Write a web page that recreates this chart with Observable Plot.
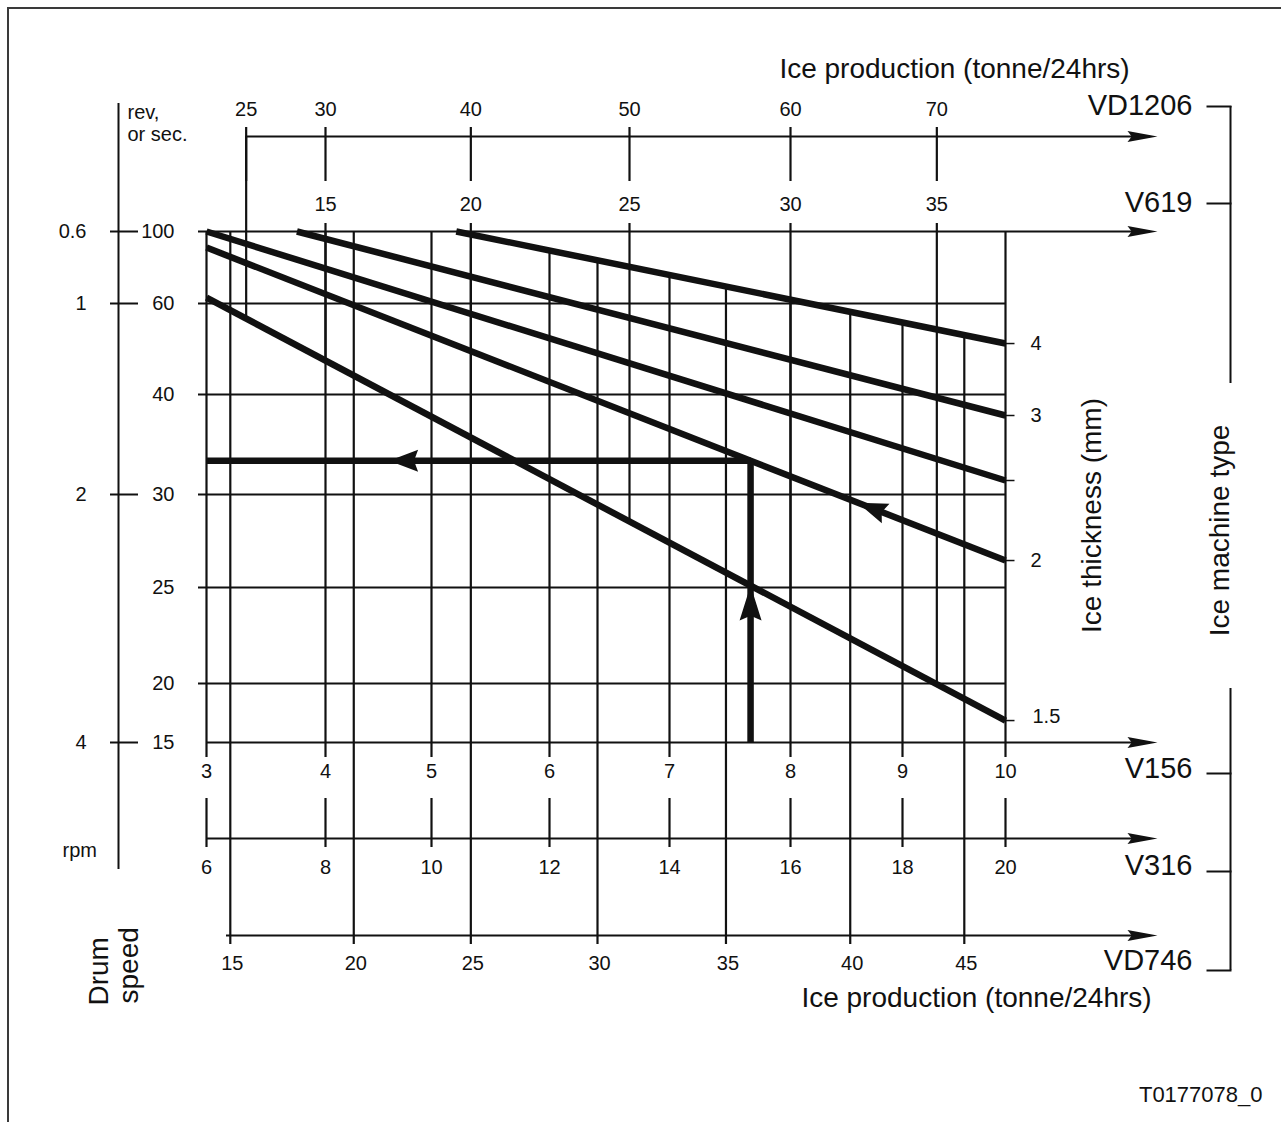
<!DOCTYPE html>
<html>
<head>
<meta charset="utf-8">
<script src="https://cdn.jsdelivr.net/npm/d3@7"></script>
<script src="https://cdn.jsdelivr.net/npm/@observablehq/plot@0.6"></script>
<style>
  html, body { margin: 0; padding: 0; background: #fff; }
  #wrap { position: relative; width: 1281px; height: 1122px; overflow: hidden; }
  #border { position: absolute; left: 7px; top: 7px; width: 1400px; height: 1300px;
            border-top: 2px solid #3a3a3a; border-left: 2px solid #3a3a3a; pointer-events: none; }
  #wrap svg { position: absolute; left: 0; top: 0; }
</style>
</head>
<body>
<div id="wrap"><div id="border"></div></div>
<script>
// ---------------- DATA ----------------
// Drum speed: seconds per revolution (right column) and rpm (left column, rpm = 60 / s)
const drumSeconds = [100, 60, 40, 30, 25, 20, 15];
const drumRpm = [0.6, 1, 2, 4];

// Ice production scales (tonne/24hrs) for each ice machine type
const machines = ["VD1206", "V619", "V156", "V316", "VD746"];
const v156Ticks = [3, 4, 5, 6, 7, 8, 9, 10];
const v316Ticks = [6, 8, 10, 12, 14, 16, 18, 20];
const v619Ticks = [15, 20, 25, 30, 35];
const vd1206Ticks = [25, 30, 40, 50, 60, 70];
const vd746Ticks = [15, 20, 25, 30, 35, 40, 45];
// capacity of each machine relative to V156
const capacityRatio = {V156: 1, V316: 2, V619: 3.75, VD1206: 7.5, VD746: 4.6875};

// Ice thickness lines (mm): start/end given as (V156 production, drum seconds)
const thicknessLabels = ["4", "3", "", "2", "1.5"];
const thicknessX0 = [5.21, 3.76, 3, 3, 3];
const thicknessS0 = [100, 100, 100, 91.1, 63.3];
const thicknessX1 = [10, 10, 10, 10, 10];
const thicknessS1 = [51.2, 37.9, 31.4, 26.45, 16.86];

// Worked example: V156 production 7.67 t/24h, 2 mm ice
const exampleProduction = 7.67;
const exampleThickness = "2";
const exampleArrowX = [4.6, 8.6]; // arrow tips along the horizontal read-off and along the 2 mm line

// ---------------- SCALES ----------------
const xOpts = {type: "linear", domain: v156Ticks, range: [206, 325, 431, 549, 669, 790, 902, 1005]};
const yOpts = {type: "linear", domain: drumSeconds, range: [231, 303, 394, 494, 587, 683, 742]};
const xs = Plot.scale({x: xOpts});
const ys = Plot.scale({y: yOpts});
const X = (p) => xs.invert(p);   // layout pixel -> data
const Y = (p) => ys.invert(p);

const ink = "#111";
const font = "'Liberation Sans', Arial, Helvetica, sans-serif";

const topY = ys.apply(drumSeconds[0]);
const botY = ys.apply(drumSeconds[drumSeconds.length - 1]);
// layout of machine axis rows (pixel rows) and their label offsets
const rowPx = {VD1206: topY - 95, V619: topY, V156: botY, V316: botY + 96, VD746: botY + 193};
const tickLabelDy = {VD1206: -27, V619: -27, V156: 29, V316: 29, VD746: 28.5};
const tickLabelDx = {VD1206: 0, V619: 0, V156: 0, V316: 0, VD746: 2};
const nameDy = {VD1206: -31, V619: -29, V156: 26, V316: 27, VD746: 25};
const bracketDy = {VD1206: -30, V619: -28, V156: 31, V316: 33, VD746: 35};
const ticksOf = {VD1206: vd1206Ticks, V619: v619Ticks, V156: v156Ticks, V316: v316Ticks, VD746: vd746Ticks};

const th = thicknessLabels.map((label, i) => ({
  label, x0: thicknessX0[i], s0: thicknessS0[i], x1: thicknessX1[i], s1: thicknessS1[i]
}));
function sOnLine(t, x) {
  const ax = xs.apply(t.x0), ay = ys.apply(t.s0), bx = xs.apply(t.x1), by = ys.apply(t.s1);
  return ys.invert(ay + (xs.apply(x) - ax) * (by - ay) / (bx - ax));
}
const topLine = th[0], lowLine = th[th.length - 1];

// ---------------- VERTICAL GRID SEGMENTS ----------------
const vsegs = [];
for (const v of v156Ticks) {
  const edge = v === v156Ticks[0] || v === v156Ticks[v156Ticks.length - 1];
  const s1 = !edge && v >= topLine.x0 ? sOnLine(topLine, v) : drumSeconds[0];
  vsegs.push({x: v, s1, s2: Y(botY + 15)});
}
for (const v of vd746Ticks) {
  const x = v / capacityRatio.VD746;
  const s1 = x >= topLine.x0 ? sOnLine(topLine, x) : drumSeconds[0];
  vsegs.push({x, s1, s2: Y(rowPx.VD746 + 9)});
}
for (const v of v619Ticks) {
  const x = v / capacityRatio.V619;
  vsegs.push({x, s1: Y(topY - 8), s2: sOnLine(lowLine, x)});
}
for (const v of vd1206Ticks) {
  const x = v / capacityRatio.VD1206;
  vsegs.push({x, s1: Y(rowPx.VD1206 - 9), s2: Y(rowPx.VD1206 + 45)});
  if (!v619Ticks.some(u => Math.abs(u / capacityRatio.V619 - x) < 1e-9))
    vsegs.push({x, s1: Y(rowPx.VD1206), s2: sOnLine(lowLine, x)});
}
for (const v of v316Ticks) {
  const x = v / capacityRatio.V316;
  vsegs.push({x, s1: Y(rowPx.V316 - 40), s2: Y(rowPx.V316 + 9)});
}

// ---------------- AXIS ROWS ----------------
const axisStart = {VD1206: vd1206Ticks[0] / capacityRatio.VD1206, V619: X(198), V156: v156Ticks[0], V316: v156Ticks[0], VD746: X(226)};
const axisRows = machines.map(m => ({m, s: Y(rowPx[m]), x1: axisStart[m]}));
const axisEndX = X(1150), axisTipX = X(1157);

// ---------------- ARROWHEAD SYMBOLS (tip at the point, pointing up before rotation) ----------------
function arrowSymbol(len, half) {
  return {
    draw(ctx) {
      ctx.moveTo(0, 0);
      ctx.lineTo(half, len);
      ctx.lineTo(0, len * 0.86);
      ctx.lineTo(-half, len);
      ctx.closePath();
    }
  };
}
const axisArrow = arrowSymbol(30, 5.5);
const bigArrow = arrowSymbol(35, 11);
const midArrow = arrowSymbol(30, 10.5);

// ---------------- EXAMPLE ----------------
const exLine = th.find(t => t.label === exampleThickness);
const sEx = sOnLine(exLine, exampleProduction);
const examplePath = [
  {x: exampleProduction, s: drumSeconds[drumSeconds.length - 1]},
  {x: exampleProduction, s: sEx},
  {x: v156Ticks[0], s: sEx}
];
const exDir = (() => {
  const dx = xs.apply(exLine.x0) - xs.apply(exLine.x1), dy = ys.apply(exLine.s0) - ys.apply(exLine.s1);
  return Math.atan2(dx, -dy) * 180 / Math.PI;
})();
const upArrow = [{x: exampleProduction, s: sOnLine(lowLine, exampleProduction)}];
const leftArrow = [{x: exampleArrowX[0], s: sEx}];
const alongArrow = [{x: exampleArrowX[1], s: sOnLine(exLine, exampleArrowX[1])}];

const thMarks = th.flatMap((t, i) => [{id: i, x: t.x0, s: t.s0}, {id: i, x: t.x1, s: t.s1}]);

// tick label marks per machine (constant offsets)
const tickLabelMarks = machines.map(m =>
  Plot.text(ticksOf[m], {
    x: v => v / capacityRatio[m], y: () => Y(rowPx[m]), text: v => String(v),
    dy: tickLabelDy[m], dx: tickLabelDx[m], fontSize: 20, fill: ink
  })
);

// ---------------- PLOT ----------------
const chart = Plot.plot({
  width: 1281,
  height: 1122,
  margin: 0,
  style: {fontFamily: font, background: "transparent", color: ink},
  x: {...xOpts, axis: null},
  y: {...yOpts, axis: null},
  marks: [
    // horizontal grid
    Plot.ruleY(drumSeconds.slice(1, -1), {y: d => d, x1: X(198), x2: v156Ticks[v156Ticks.length - 1], stroke: ink, strokeWidth: 2}),
    // vertical grid / ticks
    Plot.ruleX(vsegs, {x: "x", y1: "s1", y2: "s2", stroke: ink, strokeWidth: 2.2}),
    // machine axes
    Plot.ruleY(axisRows, {y: "s", x1: "x1", x2: axisEndX, stroke: ink, strokeWidth: 2.2}),
    Plot.dot(axisRows, {x: axisTipX, y: "s", rotate: 90, symbol: axisArrow, r: 5, fill: ink, stroke: "none"}),
    // axis tick labels
    ...tickLabelMarks,
    // machine names + bracket
    Plot.text(machines, {x: X(1192), y: m => Y(rowPx[m] + nameDy[m]), text: m => m, textAnchor: "end", fontSize: 29, fill: ink}),
    Plot.link(machines, {x1: X(1206), x2: X(1231), y1: m => Y(rowPx[m] + bracketDy[m]), y2: m => Y(rowPx[m] + bracketDy[m]), stroke: ink, strokeWidth: 2}),
    Plot.ruleX([X(1230)], {y1: Y(rowPx.VD1206 + bracketDy.VD1206), y2: Y(383), stroke: ink, strokeWidth: 2}),
    Plot.ruleX([X(1230)], {y1: Y(688), y2: Y(rowPx.VD746 + bracketDy.VD746), stroke: ink, strokeWidth: 2}),
    Plot.text(["Ice machine type"], {x: X(1220), y: Y(530), text: d => d, rotate: -90, fontSize: 28, fill: ink}),
    // ice thickness lines
    Plot.line(thMarks, {x: "x", y: "s", z: "id", stroke: ink, strokeWidth: 6.5, strokeLinecap: "butt"}),
    Plot.link(th, {x1: "x1", x2: X(1014), y1: "s1", y2: "s1", stroke: ink, strokeWidth: 1.5}),
    Plot.text(th.filter(t => t.label && t.label !== "1.5"), {x: "x1", y: "s1", text: "label", dx: 25, textAnchor: "start", fontSize: 20, fill: ink}),
    Plot.text(th.filter(t => t.label === "1.5"), {x: "x1", y: "s1", text: "label", dx: 27, dy: -4, textAnchor: "start", fontSize: 20, fill: ink}),
    Plot.text(["Ice thickness (mm)"], {x: X(1092), y: Y(515), text: d => d, rotate: -90, fontSize: 28, fill: ink}),
    // worked example
    Plot.line(examplePath, {x: "x", y: "s", stroke: ink, strokeWidth: 6.5, strokeLinejoin: "miter", strokeLinecap: "butt"}),
    Plot.dot(upArrow, {x: "x", y: "s", rotate: 0, symbol: bigArrow, r: 5, fill: ink, stroke: "none"}),
    Plot.dot(leftArrow, {x: "x", y: "s", rotate: -90, symbol: arrowSymbol(29, 11), r: 5, fill: ink, stroke: "none"}),
    Plot.dot(alongArrow, {x: "x", y: "s", rotate: exDir, symbol: midArrow, r: 5, fill: ink, stroke: "none"}),
    // drum speed axis (left)
    Plot.ruleX([X(118)], {y1: Y(103), y2: Y(869), stroke: ink, strokeWidth: 2}),
    Plot.ruleY(drumRpm, {y: r => 60 / r, x1: X(110), x2: X(138), stroke: ink, strokeWidth: 2}),
    Plot.text(drumRpm, {x: X(86), y: r => 60 / r, text: r => String(r), textAnchor: "end", fontSize: 20, fill: ink}),
    Plot.text(drumSeconds, {x: X(174), y: s => s, text: s => String(s), textAnchor: "end", fontSize: 20, fill: ink}),
    Plot.text(["rev,", "or sec."], {x: X(127), y: (d, i) => Y(112.5 + i * 22), text: d => d, textAnchor: "start", fontSize: 20, fill: ink}),
    Plot.text(["rpm"], {x: X(62), y: Y(850), text: d => d, textAnchor: "start", fontSize: 20, fill: ink}),
    Plot.text(["Drum"], {x: X(99), y: Y(1005), text: d => d, rotate: -90, textAnchor: "start", fontSize: 28, fill: ink}),
    Plot.text(["speed"], {x: X(129), y: Y(1003), text: d => d, rotate: -90, textAnchor: "start", fontSize: 28, fill: ink}),
    // titles
    Plot.text(["Ice production (tonne/24hrs)"], {x: X(954), y: Y(69), text: d => d, fontSize: 28, fill: ink}),
    Plot.text(["Ice production (tonne/24hrs)"], {x: X(976), y: Y(998), text: d => d, fontSize: 28, fill: ink}),
    Plot.text(["T0177078_0"], {x: X(1262), y: Y(1094), text: d => d, textAnchor: "end", fontSize: 22, fill: ink})
  ]
});
document.getElementById("wrap").appendChild(chart);
</script>
</body>
</html>
